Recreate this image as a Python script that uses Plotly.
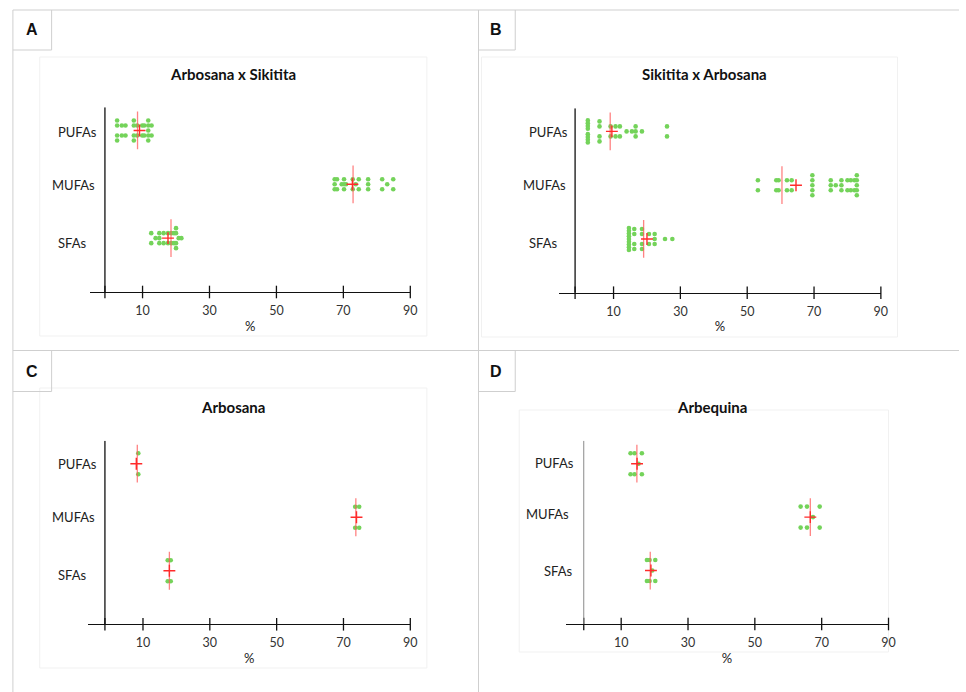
import plotly.graph_objects as go

W, H = 966, 692

# ---------------- data ----------------
CATEGORIES = ["SFAs", "MUFAs", "PUFAs"]          # y = 1, 2, 3
TICK_VALUES = [10, 30, 50, 70, 90]
TICK_TEXT = ["10", "30", "50", "70", "90"]
X_TITLE = "%"
TITLES = ["Arbosana x Sikitita", "Sikitita x Arbosana", "Arbosana", "Arbequina"]
LETTERS = ["A", "B", "C", "D"]

# Panel A : Arbosana x Sikitita
A_SFA = [12.6, 12.6, 13.9, 15.0, 15.0, 15.0, 16.3, 16.3, 17.6, 17.6, 18.6, 18.6,
         19.4, 19.4, 20.0, 20.0, 20.0, 20.0, 20.8, 21.6]
A_MUFA = [67.4, 67.4, 67.4, 68.1, 68.1, 69.5, 70.2, 70.2, 70.2, 70.8, 72.8, 72.8,
          73.7, 74.6, 74.6, 77.4, 77.4, 77.4, 81.6, 81.6, 83.1, 84.9, 84.9]
A_PUFA = [2.4, 2.4, 2.4, 2.4, 3.8, 3.8, 4.9, 4.9, 7.4, 7.4, 7.4, 7.4, 8.4, 8.4,
          9.9, 9.9, 10.5, 10.5, 11.7, 11.7, 11.7, 11.7, 11.7, 12.7, 12.7]
A_MEAN = [17.6, 72.7, 9.1]
A_MEDIAN = [18.5, 72.9, 8.5]

# Panel B : Sikitita x Arbosana
B_SFA = [14.6] * 9 + [16.2] * 4 + [18.5] * 4 + [20.6] * 2 + [22.3] * 3 + [25.4, 27.6]
B_MUFA = [53.2, 53.2, 58.7, 58.7, 59.4, 59.4, 61.9, 61.9, 63.3, 63.3,
          69.5, 69.5, 69.5, 69.5, 69.5, 75.0, 75.0, 75.0, 76.5, 78.2, 78.2, 78.2,
          80.0, 80.0, 81.0, 81.0, 82.1, 82.1, 82.8, 82.8, 82.8, 82.8, 82.8]
B_PUFA = [2.3] * 8 + [5.8] * 4 + [9.1, 9.1, 10.6, 10.6, 11.9, 11.9, 13.9, 15.5,
                                   16.6, 16.6, 16.6, 18.5, 26.0, 26.0]
B_MEAN = [20.0, 64.6, 9.5]
B_MEDIAN = [19.0, 60.4, 9.0]

# Panel C : Arbosana
C_SFA = [17.4, 17.4, 18.3, 18.3]
C_MUFA = [73.5, 73.5, 74.7, 74.7]
C_PUFA = [8.6, 8.6]
C_MEAN = [17.9, 73.9, 8.0]
C_MEDIAN = [17.9, 73.7, 8.3]

# Panel D : Arbequina
D_SFA = [17.7, 17.7, 18.5, 18.5, 19.3, 20.2, 20.2]
D_MUFA = [63.7, 63.7, 65.6, 65.6, 67.4, 69.4, 69.4]
D_PUFA = [12.8, 12.8, 14.0, 14.0, 15.2, 16.2, 16.2]
D_MEAN = [18.9, 66.6, 14.75]
D_MEDIAN = [18.7, 66.6, 14.7]

PANEL_DATA = [
    ([A_SFA, A_MUFA, A_PUFA], A_MEAN, A_MEDIAN),
    ([B_SFA, B_MUFA, B_PUFA], B_MEAN, B_MEDIAN),
    ([C_SFA, C_MUFA, C_PUFA], C_MEAN, C_MEDIAN),
    ([D_SFA, D_MUFA, D_PUFA], D_MEAN, D_MEDIAN),
]

# ---------------- layout geometry (pixels) ----------------
Y_TOP = 3.43
GEOM = [
    dict(x0=91, x90=413.3, lo=-5.6, top=107.3, bot=292, yline=-1.24,
         title=(235, 74), labels=[(72.5, 243), (74, 185), (78, 132)],
         letter=(32.5, 30), step=5, ycolor="#111111", ywidth=1.3),
    dict(x0=563, x90=887.3, lo=-6.35, top=108.3, bot=292.7, yline=-1.51,
         title=(709.7, 74), labels=[(547, 243), (548, 185), (552, 132)],
         letter=(500, 30), step=5, ycolor="#111111", ywidth=1.3),
    dict(x0=89, x90=413.3, lo=-6.35, top=440.7, bot=624.3, yline=-1.39,
         title=(235, 407), labels=[(72.5, 575), (74, 517.3), (78, 464.3)],
         letter=(32.5, 371), step=10.5, ycolor="#111111", ywidth=1.3),
    dict(x0=569.7, x90=895, lo=-6.64, top=440.7, bot=624, yline=-1.2,
         title=(717.3, 406.7), labels=[(562, 570.7), (551, 514.3), (559, 463.3)],
         letter=(500, 371), step=10.5, ycolor="#8a8a8a", ywidth=1.0),
]
HMAX = 11.0      # max half spread of a column, px
GAP = 0.5        # values closer than this share a column

GREEN = "#74d35a"
RED = "#ff2b2b"
PINK = "rgba(255,90,90,0.75)"
FRAME = "#cfcfcf"
INNER = "#f1f1f1"
FONT = "Lato"


def px_x(x):
    return x / W


def px_y(y):
    return 1 - y / H


def swarm(values, step):
    """Group near-equal values into columns and spread each column vertically (px)."""
    vals = sorted(values)
    groups, cur = [], [vals[0]]
    for v in vals[1:]:
        if v - cur[0] <= GAP:
            cur.append(v)
        else:
            groups.append(cur)
            cur = [v]
    groups.append(cur)
    out = []
    for g in groups:
        k = len(g)
        slots = [0.0] if k % 2 else []
        i = 1
        while len(slots) < k:
            slots += [i * step, -i * step]
            i += 1
        slots = slots[:k]
        m = max(abs(s) for s in slots)
        scale = HMAX / m if m > HMAX else 1.0
        for v, s in zip(g, slots):
            out.append((v, s * scale))
    return out


fig = go.Figure()
layout = dict(width=W, height=H, margin=dict(l=0, r=0, t=0, b=0),
              paper_bgcolor="white", plot_bgcolor="white", showlegend=False)
shapes, annotations = [], []

for p, ((groups, means, medians), g) in enumerate(zip(PANEL_DATA, GEOM)):
    n = p + 1
    xa = "x" if n == 1 else f"x{n}"
    ya = "y" if n == 1 else f"y{n}"
    xkey = "xaxis" if n == 1 else f"xaxis{n}"
    ykey = "yaxis" if n == 1 else f"yaxis{n}"
    px_per_y = (g["bot"] - g["top"]) / Y_TOP

    for ci, vals in enumerate(groups):
        pts = swarm(vals, g["step"])
        fig.add_trace(go.Scatter(
            x=[v for v, _ in pts], y=[ci + 1 + o / px_per_y for _, o in pts],
            mode="markers", marker=dict(size=4.6, color=GREEN, line=dict(width=0)),
            xaxis=xa, yaxis=ya, hoverinfo="skip"))
    ys = [i + 1 for i in range(len(CATEGORIES))]
    fig.add_trace(go.Scatter(
        x=medians, y=ys, mode="markers",
        marker=dict(symbol="line-ns", size=27, line=dict(width=1.3, color=PINK)),
        xaxis=xa, yaxis=ya, hoverinfo="skip"))
    fig.add_trace(go.Scatter(
        x=means, y=ys, mode="markers",
        marker=dict(symbol="cross-thin", size=8.5, line=dict(width=1.4, color=RED)),
        xaxis=xa, yaxis=ya, hoverinfo="skip"))
    # tick marks crossing the x axis
    tick_x = [g["yline"]] + TICK_VALUES
    fig.add_trace(go.Scatter(
        x=tick_x, y=[0] * len(tick_x), mode="markers", cliponaxis=False,
        marker=dict(symbol="line-ns", size=9, line=dict(width=1.3, color="#111111")),
        xaxis=xa, yaxis=ya, hoverinfo="skip"))

    layout[xkey] = dict(
        domain=[px_x(g["x0"]), px_x(g["x90"])], range=[g["lo"], 90], anchor=ya,
        tickvals=TICK_VALUES, ticktext=TICK_TEXT, ticks="", showgrid=False,
        zeroline=False, showline=True, linecolor="#111111", linewidth=1.3,
        tickfont=dict(family=FONT, size=12.5, color="#333333"), ticklabelstandoff=7,
        title=dict(text=X_TITLE, font=dict(family=FONT, size=13, color="#222222"),
                   standoff=4),
        fixedrange=True)
    layout[ykey] = dict(
        domain=[px_y(g["bot"]), px_y(g["top"])], range=[0, Y_TOP], anchor=xa,
        showticklabels=False, ticks="", showgrid=False, zeroline=False,
        showline=False, fixedrange=True)

    # y axis line
    shapes.append(dict(type="line", xref=xa, yref=ya, x0=g["yline"], x1=g["yline"],
                       y0=0, y1=Y_TOP, line=dict(color=g["ycolor"], width=g["ywidth"])))
    # category labels
    for (lx, ly), name in zip(g["labels"], CATEGORIES):
        annotations.append(dict(text=name, xref="paper", yref="paper", x=px_x(lx),
                                y=px_y(ly), xanchor="center", yanchor="middle",
                                showarrow=False,
                                font=dict(family=FONT, size=13, color="#222222")))
    # title
    annotations.append(dict(text="<b>" + TITLES[p] + "</b>", xref="paper", yref="paper",
                            x=px_x(g["title"][0]), y=px_y(g["title"][1]),
                            xanchor="center", yanchor="middle", showarrow=False,
                            font=dict(family=FONT, size=15, color="#111111")))
    # panel letter
    annotations.append(dict(text="<b>" + LETTERS[p] + "</b>", xref="paper", yref="paper",
                            x=px_x(g["letter"][0]), y=px_y(g["letter"][1]),
                            xanchor="center", yanchor="middle", showarrow=False,
                            font=dict(family="Liberation Sans", size=16, color="#111111")))


def pline(x0, y0, x1, y1, color=FRAME, width=1):
    shapes.append(dict(type="line", xref="paper", yref="paper", x0=px_x(x0), x1=px_x(x1),
                       y0=px_y(y0), y1=px_y(y1), line=dict(color=color, width=width)))


def prect(x0, y0, x1, y1, color=INNER):
    shapes.append(dict(type="rect", xref="paper", yref="paper", x0=px_x(x0), x1=px_x(x1),
                       y0=px_y(y0), y1=px_y(y1), line=dict(color=color, width=1),
                       layer="below"))


# inner (faint) plot-area frames
prect(40, 57, 430, 336)
prect(485, 57, 904, 337)
prect(40, 388, 430, 668)
prect(523, 410, 895, 652)

# outer frames
pline(13, 10, 966, 10)
pline(13, 10, 13, 692)
pline(482, 10, 482, 692)
pline(13, 350.5, 966, 350.5)
# letter boxes
for bx0, by0, bx1, by1 in [(13, 10, 52, 50), (482, 10, 519, 50),
                           (13, 350.5, 52, 391.5), (482, 350.5, 519, 391.5)]:
    pline(bx1, by0, bx1, by1)
    pline(bx0, by1, bx1, by1)

layout["shapes"] = shapes
layout["annotations"] = annotations
fig.update_layout(**layout)
fig.write_html(
    "out.html",
    config={"displayModeBar": False},
    post_script="document.body.style.margin='0px';document.body.style.overflow='hidden';",
)
